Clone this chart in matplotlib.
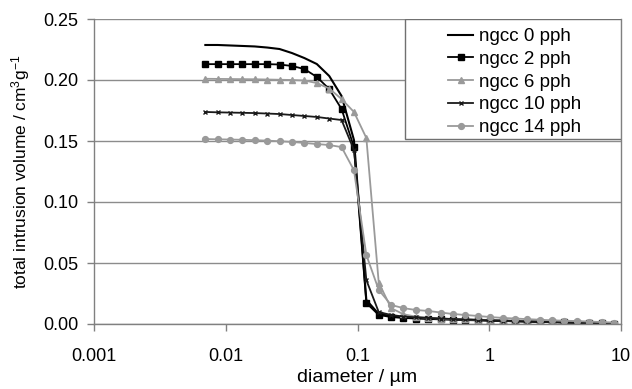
import matplotlib
matplotlib.use("Agg")
import matplotlib.pyplot as plt
from matplotlib.patches import Rectangle

plt.rcParams['font.family'] = ['Liberation Sans', 'DejaVu Sans']
plt.rcParams['mathtext.fontset'] = 'custom'
plt.rcParams['mathtext.rm'] = 'Liberation Sans'
plt.rcParams['mathtext.default'] = 'regular'

# diameter values (µm)
diameter = [0.0070, 0.0087, 0.0108, 0.0134, 0.0166, 0.0207, 0.0256, 0.0318,
            0.0395, 0.0491, 0.0610, 0.0757, 0.0940, 0.1167, 0.1449, 0.1799,
            0.2234, 0.2773, 0.3443, 0.4276, 0.5309, 0.6592, 0.8185, 1.016,
            1.262, 1.567, 1.945, 2.415, 2.999, 3.724, 4.624, 5.741, 7.129, 8.851]

ngcc0 = [0.2287, 0.2287, 0.2283, 0.2279, 0.2275, 0.2266, 0.2254, 0.2221,
         0.2180, 0.2131, 0.2033, 0.1869, 0.1508, 0.0197, 0.0082, 0.0066,
         0.0055, 0.0050, 0.0046, 0.0042, 0.0038, 0.0035, 0.0032, 0.0029,
         0.0026, 0.0023, 0.0021, 0.0018, 0.0016, 0.0013, 0.0010, 0.0008, 0.0005, 0.0003]

ngcc2 = [0.2130, 0.2130, 0.2130, 0.2130, 0.2130, 0.2130, 0.2127, 0.2115,
         0.2090, 0.2025, 0.1926, 0.1762, 0.1451, 0.0172, 0.0074, 0.0057,
         0.0049, 0.0045, 0.0041, 0.0038, 0.0035, 0.0032, 0.0030, 0.0027,
         0.0025, 0.0022, 0.0020, 0.0018, 0.0016, 0.0013, 0.0011, 0.0008, 0.0005, 0.0003]

ngcc6 = [0.2010, 0.2009, 0.2008, 0.2007, 0.2006, 0.2004, 0.2002, 0.2000,
         0.1996, 0.1975, 0.1930, 0.1844, 0.1738, 0.1525, 0.0340, 0.0130,
         0.0080, 0.0060, 0.0050, 0.0045, 0.0040, 0.0038, 0.0035, 0.0033,
         0.0030, 0.0028, 0.0026, 0.0024, 0.0021, 0.0019, 0.0016, 0.0013, 0.0010, 0.0008]

ngcc10 = [0.1738, 0.1735, 0.1733, 0.1731, 0.1729, 0.1725, 0.1721, 0.1713,
          0.1705, 0.1697, 0.1684, 0.1672, 0.1426, 0.0360, 0.0098, 0.0074,
          0.0061, 0.0055, 0.0050, 0.0045, 0.0041, 0.0037, 0.0034, 0.0031,
          0.0028, 0.0025, 0.0022, 0.0020, 0.0017, 0.0014, 0.0011, 0.0009, 0.0006, 0.0004]

ngcc14 = [0.1516, 0.1514, 0.1512, 0.1510, 0.1507, 0.1503, 0.1498, 0.1492,
          0.1484, 0.1475, 0.1467, 0.1450, 0.1260, 0.0566, 0.0280, 0.0156,
          0.0130, 0.0115, 0.0107, 0.0094, 0.0082, 0.0074, 0.0066, 0.0057,
          0.0050, 0.0045, 0.0040, 0.0035, 0.0030, 0.0027, 0.0024, 0.0020, 0.0016, 0.0012]

labels = ["ngcc 0 pph", "ngcc 2 pph", "ngcc 6 pph", "ngcc 10 pph", "ngcc 14 pph"]
xticks = [0.001, 0.01, 0.1, 1, 10]
xticklabels = ["0.001", "0.01", "0.1", "1", "10"]
yticks = [0.00, 0.05, 0.10, 0.15, 0.20, 0.25]

fig = plt.figure(figsize=(6.32, 3.89), dpi=100)
ax = fig.add_axes([94/632, 1-324/389, 527/632, 305/389])

ax.plot(diameter, ngcc0, color='black', lw=1.5, label=labels[0])
ax.plot(diameter, ngcc2, color='black', lw=1.3, marker='s', ms=4.5, label=labels[1])
ax.plot(diameter, ngcc6, color='#9a9a9a', lw=1.3, marker='^', ms=4.5, label=labels[2])
ax.plot(diameter, ngcc10, color='#1a1a1a', lw=1.3, marker='x', ms=3.5, mew=1.0, label=labels[3])
ax.plot(diameter, ngcc14, color='#9a9a9a', lw=1.3, marker='o', ms=4.2, label=labels[4])

ax.set_xscale('log')
ax.set_xlim(0.001, 10)
ax.set_ylim(0, 0.25)
ax.set_xticks(xticks)
ax.set_xticklabels(xticklabels)
ax.xaxis.set_minor_locator(matplotlib.ticker.NullLocator())
ax.set_yticks(yticks)
ax.set_yticklabels([f"{v:.2f}" for v in yticks])
ax.yaxis.grid(True, color='#8c8c8c', lw=1.0)
ax.set_axisbelow(True)

for s in ['left', 'bottom', 'right']:
    ax.spines[s].set_color('#808080')
    ax.spines[s].set_linewidth(1.0)
ax.spines['top'].set_visible(False)

ax.tick_params(axis='both', colors='#808080', labelcolor='black', labelsize=13,
               length=5, width=1.0, direction='out')
ax.tick_params(axis='x', pad=12.5)
ax.tick_params(axis='y', pad=6)
ax.tick_params(axis='y', which='both', right=False)

ax.set_xlabel("diameter / µm", fontsize=14, labelpad=3)
ax.set_ylabel(r"total intrusion volume / cm$^3$g$^{-1}$", fontsize=12.5, labelpad=8)

# legend box
x0 = (405-94)/527
y0 = (324-139)/305
frame = Rectangle((x0, y0), 1-x0, 1-y0, transform=ax.transAxes, facecolor='white',
                  edgecolor='#707070', lw=1.0, zorder=4)
ax.add_patch(frame)
leg = ax.legend(loc='center', bbox_to_anchor=(x0 + (1-x0)/2 + 2/527, y0 + (1-y0)/2 - 3/305),
                frameon=False, fontsize=13.5, handlelength=1.3, handletextpad=0.35,
                labelspacing=0.3, borderpad=0)
leg.set_zorder(5)

fig.savefig("out.png", dpi=100)
